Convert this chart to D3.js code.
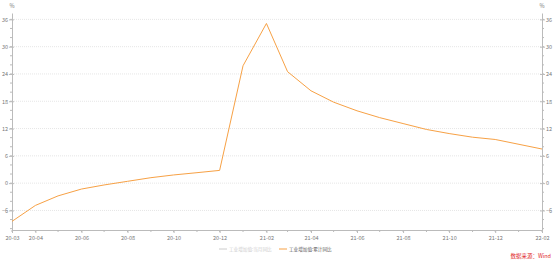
<!DOCTYPE html>
<html>
<head>
<meta charset="utf-8">
<script src="https://cdn.jsdelivr.net/npm/d3@7"></script>
<style>
  body { margin: 0; background: #fff; }
  text { font-family: "Noto Sans CJK SC", "Noto Sans", sans-serif; }
</style>
</head>
<body>
<svg></svg>
<script>
// ### Data ###
var months = ['2020-03','2020-04','2020-05','2020-06','2020-07','2020-08','2020-09','2020-10',
              '2020-11','2020-12','2021-01','2021-02','2021-03','2021-04','2021-05','2021-06',
              '2021-07','2021-08','2021-09','2021-10','2021-11','2021-12','2022-02']
var cumYoY = [-8.4, -4.9, -2.8, -1.3, -0.4, 0.4, 1.2, 1.8,
              2.3, 2.8, 25.8, 35.1, 24.5, 20.3, 17.8, 15.9,
              14.4, 13.1, 11.8, 10.9, 10.1, 9.6, 7.5]
var yTicks = [-6, 0, 6, 12, 18, 24, 30, 36]
var xLabels = ['2020-03','2020-04','2020-06','2020-08','2020-10','2020-12',
               '2021-02','2021-04','2021-06','2021-08','2021-10','2021-12','2022-02']
var legendNames = ['工业增加值:当月同比', '工业增加值:累计同比']
var source = '数据来源：Wind'

var parse = d3.timeParse('%Y-%m')
var fmt = d3.timeFormat('%y-%m')
var data = months.map((m, i) => ({date: parse(m), v: cumYoY[i]}))

// ### Canvas ###
var width = 553, height = 260
var svg = d3.select('svg').attr('width', width).attr('height', height)
var plot = {left: 12, right: 542, top: 13, bottom: 230}

var xScale = d3.scaleTime()
    .domain([parse('2020-03'), parse('2022-02')])
    .range([plot.left, plot.right])
var yScale = d3.scaleLinear()
    .domain([-10.3, 37.4])
    .range([plot.bottom, plot.top])

// gridlines
svg.append('g').selectAll('line')
    .data(yTicks)
    .enter().append('line')
    .attr('x1', plot.left).attr('x2', plot.right)
    .attr('y1', d => yScale(d)).attr('y2', d => yScale(d))
    .attr('stroke', '#e6e6e6')
    .attr('stroke-dasharray', '1,1')

var minor = d3.range(-10, 37.5, 2)

function styleAxis(g) {
    g.select('.domain').attr('stroke', '#bbb')
    g.selectAll('.tick line').attr('stroke', '#bbb')
    g.selectAll('text').attr('fill', '#777').style('font-size', '5.5px')
}

// left axis
var leftAxis = svg.append('g').attr('transform', `translate(${plot.left},0)`)
leftAxis.call(d3.axisLeft(yScale).tickValues(yTicks).tickSize(3).tickSizeOuter(0).tickPadding(1))
    .call(styleAxis)
leftAxis.selectAll('.tick line').attr('x1', -3).attr('x2', 2)
leftAxis.append('g').selectAll('line').data(minor).enter().append('line')
    .attr('x1', -2).attr('x2', 0)
    .attr('y1', d => yScale(d)).attr('y2', d => yScale(d)).attr('stroke', '#bbb')

// right axis
var rightAxis = svg.append('g').attr('transform', `translate(${plot.right},0)`)
rightAxis.call(d3.axisRight(yScale).tickValues(yTicks).tickSize(3).tickSizeOuter(0).tickPadding(1))
    .call(styleAxis)
rightAxis.selectAll('.tick line').attr('x1', -2).attr('x2', 3)
rightAxis.append('g').selectAll('line').data(minor).enter().append('line')
    .attr('x1', 0).attr('x2', 2)
    .attr('y1', d => yScale(d)).attr('y2', d => yScale(d)).attr('stroke', '#bbb')

// unit labels
svg.append('text').attr('x', plot.left).attr('y', 8).attr('text-anchor', 'middle')
    .attr('fill', '#777').style('font-size', '5.5px').text('%')
svg.append('text').attr('x', plot.right).attr('y', 8).attr('text-anchor', 'middle')
    .attr('fill', '#777').style('font-size', '5.5px').text('%')

// bottom axis
var allMonths = d3.timeMonth.range(parse('2020-03'), d3.timeMonth.offset(parse('2022-02'), 1))
var xAxis = svg.append('g').attr('transform', `translate(0,${plot.bottom})`)
xAxis.call(d3.axisBottom(xScale).tickValues(xLabels.map(parse)).tickFormat(fmt)
        .tickSize(3).tickSizeOuter(0).tickPadding(3))
    .call(styleAxis)
xAxis.append('g').selectAll('line').data(allMonths).enter().append('line')
    .attr('x1', d => xScale(d)).attr('x2', d => xScale(d))
    .attr('y1', 0).attr('y2', 2).attr('stroke', '#bbb')

// ### Line ###
var line = d3.line().x(d => xScale(d.date)).y(d => yScale(d.v))
svg.append('path')
    .datum(data)
    .attr('d', line)
    .attr('fill', 'none')
    .attr('stroke', '#f7a145')
    .attr('stroke-width', 1)

// ### Legend ###
var legend = svg.append('g').attr('transform', 'translate(219,249)')
var legendColors = ['#ccc', '#f7a145']
var legendX = [0, 60]
legendNames.forEach((name, i) => {
    legend.append('line').attr('x1', legendX[i]).attr('x2', legendX[i] + 8)
        .attr('y1', 0).attr('y2', 0).attr('stroke', legendColors[i]).attr('stroke-width', 1)
    legend.append('text').attr('x', legendX[i] + 10).attr('y', 1.7)
        .attr('fill', i === 0 ? '#ccc' : '#555').style('font-size', '4.6px').text(name)
})

svg.append('text').attr('x', 551).attr('y', 258).attr('text-anchor', 'end')
    .attr('fill', '#e0262a').style('font-size', '5.5px').text(source)
</script>
</body>
</html>
